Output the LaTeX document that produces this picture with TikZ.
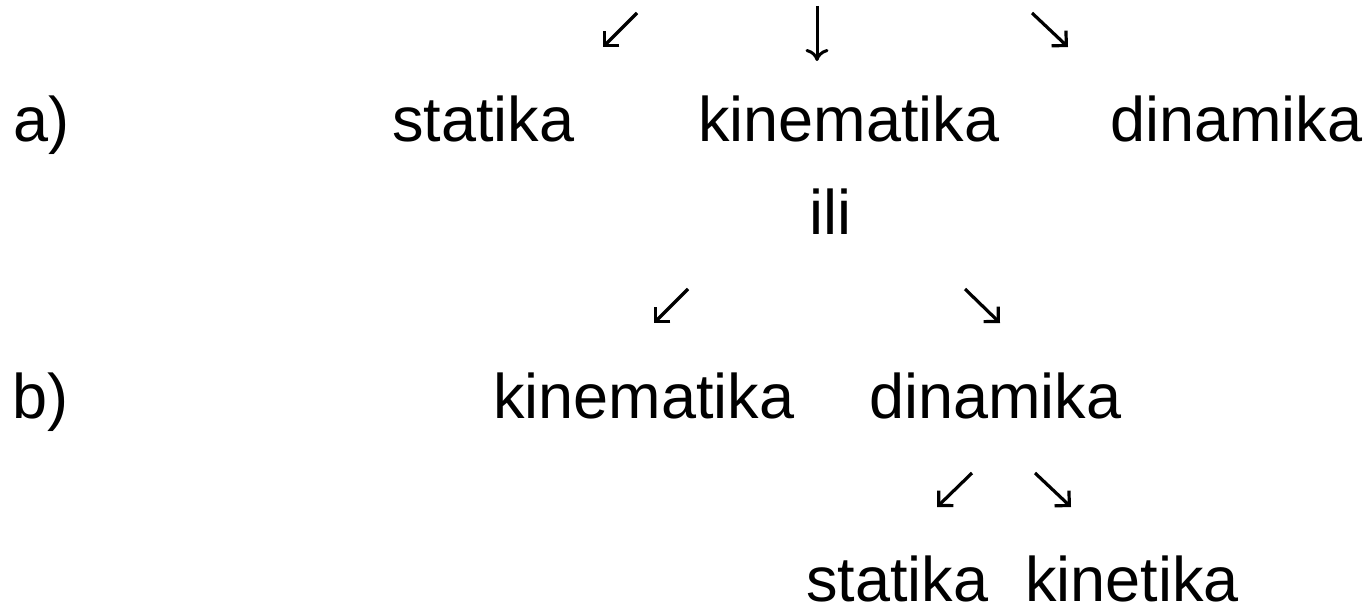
\documentclass[tikz,border=0pt]{standalone}
\usepackage{fontspec}
\setmainfont{Liberation Sans}
\usetikzlibrary{arrows.meta}
\newcommand{\bigfont}{\fontsize{63}{75}\selectfont}
\tikzset{
  word/.style={anchor=base west, inner sep=0pt, font=\bigfont},
  flatword/.style={word, text depth=0pt},
  diagarrow/.style={line width=3.2pt, line join=miter,
    -{Straight Barb[length=10.5pt, width=21pt, line join=miter, line cap=butt]}},
  downarrow/.style={line width=3pt,
    -{Computer Modern Rightarrow[length=12pt, width=23pt]}}
}
\begin{document}
\begin{tikzpicture}[x=1pt, y=-1pt]
  \useasboundingbox (0,0) rectangle (1369,607);

  % first classification
  \node[word] (la) at (13,142) {a)};
  \node[word] (sa) at (392,142) {statika};
  \node[word] (ka) at (698,142) {kinematika};
  \node[word] (da) at (1110,142) {dinamika};
  \node[word] (ili) at (809,234) {ili};

  % second classification
  \node[word] (lb) at (12,418) {b)};
  \node[word] (kb) at (493,418) {kinematika};
  \node[word] (db) at (869,418) {dinamika};
  \node[flatword] (sc) at (806,601) {statika};
  \node[flatword] (kc) at (1025,601) {kinetika};

  % arrow end points
  \coordinate (a1s) at (637,13);   \coordinate (a1e) at (603,47);
  \coordinate (a2s) at (817,6);    \coordinate (a2e) at (817,61);
  \coordinate (a3s) at (1032,13);  \coordinate (a3e) at (1068,47);
  \coordinate (b1s) at (688,289);  \coordinate (b1e) at (654,323);
  \coordinate (b2s) at (965,289);  \coordinate (b2e) at (1000,323);
  \coordinate (c1s) at (972,473);  \coordinate (c1e) at (937,507);
  \coordinate (c2s) at (1035,473); \coordinate (c2e) at (1071,507);

  \draw[diagarrow] (a1s) -- (a1e);
  \draw[downarrow] (a2s) -- (a2e);
  \draw[diagarrow] (a3s) -- (a3e);
  \draw[diagarrow] (b1s) -- (b1e);
  \draw[diagarrow] (b2s) -- (b2e);
  \draw[diagarrow] (c1s) -- (c1e);
  \draw[diagarrow] (c2s) -- (c2e);
\end{tikzpicture}
\end{document}
